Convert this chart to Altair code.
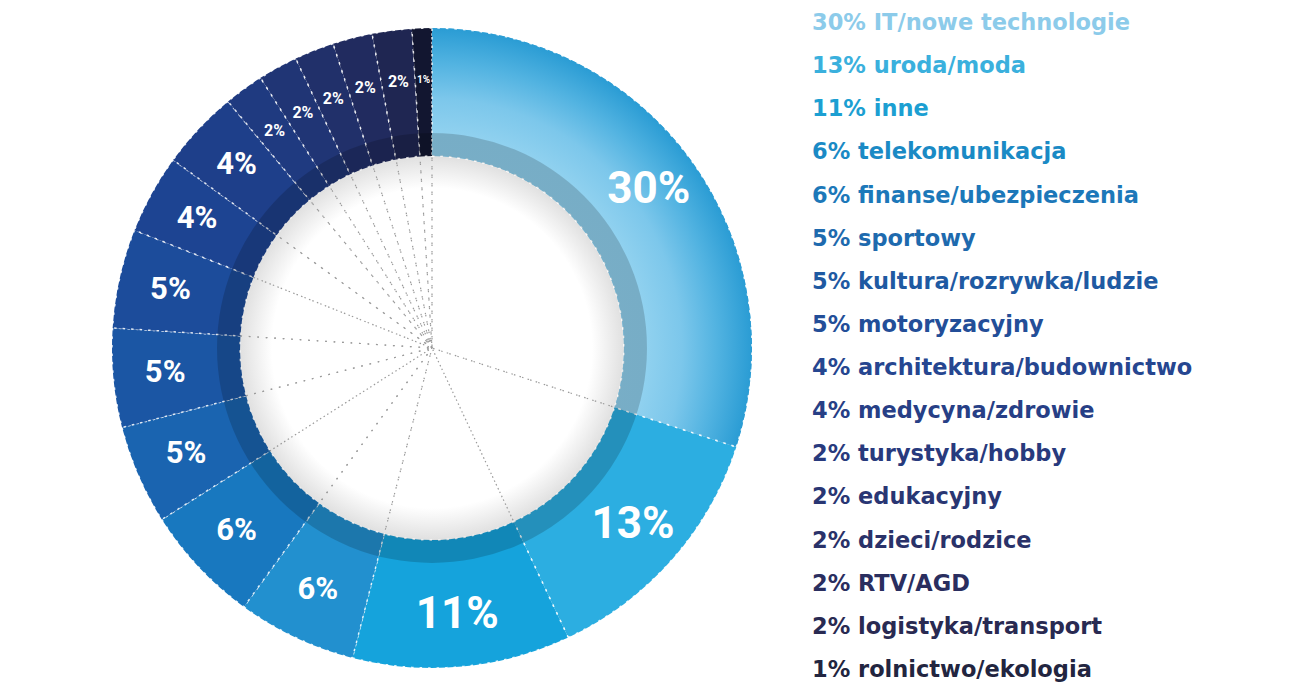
import math
import altair as alt
import pandas as pd

values = [30, 13, 11, 6, 6, 5, 5, 5, 4, 4, 2, 2, 2, 2, 2, 1]
names = [
    "IT/nowe technologie", "uroda/moda", "inne", "telekomunikacja",
    "finanse/ubezpieczenia", "sportowy", "kultura/rozrywka/ludzie",
    "motoryzacyjny", "architektura/budownictwo", "medycyna/zdrowie",
    "turystyka/hobby", "edukacyjny", "dzieci/rodzice", "RTV/AGD",
    "logistyka/transport", "rolnictwo/ekologia",
]

slice_colors = [
    "#6cc0e8", "#2caee1", "#15a3dc", "#2290cf", "#1878bf", "#1a64b0",
    "#1b56a4", "#1c4c9b", "#1d4492", "#1e3f8a", "#1f3a80", "#203575",
    "#21306a", "#212b5f", "#1f2652", "#121630",
]
legend_colors = [
    "#8ccbea", "#3ab0dd", "#1c9fd2", "#1a8ac5", "#1c78b9", "#1e6aae",
    "#1f5aa2", "#234e98", "#264690", "#273f86", "#283a7d", "#293673",
    "#2a3269", "#2a2e5f", "#292a52", "#222540",
]

df = pd.DataFrame({"idx": list(range(len(values))), "name": names, "value": values})
df["label"] = [f"{v}%" for v in values]
df["legend"] = [f"{v}% {n}" for v, n in zip(values, names)]
one = pd.DataFrame({"k": [1]})

CX, CY = 424, 340
R_IN, R_BAND, R_OUT = 192, 215, 320
TWO_PI = 2 * math.pi

theta = alt.Theta("value:Q", stack=True)
order = alt.Order("idx:Q", sort="ascending")
pos = dict(x=alt.value(CX), y=alt.value(CY))

disc = alt.Chart(one).mark_arc(
    innerRadius=0, outerRadius=200,
    fill=alt.Gradient(
        gradient="radial",
        stops=[
            alt.GradientStop(color="#ffffff", offset=0),
            alt.GradientStop(color="#ffffff", offset=0.8),
            alt.GradientStop(color="#e2e2e2", offset=0.95),
            alt.GradientStop(color="#d4d4d4", offset=1),
        ],
        x1=0.5, y1=0.5, r1=0, x2=0.5, y2=0.5, r2=0.5,
    ),
).encode(theta=alt.value(0), theta2=alt.value(TWO_PI), **pos)

spokes = alt.Chart(df).mark_arc(
    innerRadius=0, outerRadius=198, fillOpacity=0,
    stroke="#9a9a9a", strokeWidth=1.2, strokeDash=[1.5, 7],
).encode(theta=theta, order=order, **pos)

ring = alt.Chart(df).mark_arc(
    innerRadius=R_IN, outerRadius=R_OUT,
    stroke="white", strokeWidth=1.5, strokeDash=[2.5, 6], strokeOpacity=0.85,
).encode(
    theta=theta, order=order,
    color=alt.Color("name:N", scale=alt.Scale(domain=names, range=slice_colors), legend=None),
    **pos,
)

hl = alt.Chart(df).transform_filter("datum.idx == 0").mark_arc(
    innerRadius=R_IN, outerRadius=R_OUT,
    stroke="white", strokeWidth=1.5, strokeDash=[2.5, 6], strokeOpacity=0.85,
    fill=alt.Gradient(
        gradient="radial",
        stops=[
            alt.GradientStop(color="#9ad6f2", offset=0),
            alt.GradientStop(color="#90d1ef", offset=0.67),
            alt.GradientStop(color="#7cc7eb", offset=0.78),
            alt.GradientStop(color="#52b3e1", offset=0.89),
            alt.GradientStop(color="#2a9cd4", offset=1),
        ],
        x1=0.118, y1=0.764, r1=0, x2=0.118, y2=0.764, r2=0.764,
    ),
).encode(theta=theta, order=order, **pos)

band = alt.Chart(one).mark_arc(
    innerRadius=R_IN, outerRadius=R_BAND, fill="black", fillOpacity=0.17,
).encode(theta=alt.value(0), theta2=alt.value(TWO_PI), **pos)

labels = alt.Chart(df).mark_text(
    radius=268, font="Roboto", fontWeight="bold", color="white",
    align="center", baseline="middle",
).encode(
    theta=theta, order=order, text="label:N",
    size=alt.Size("value:Q", scale=alt.Scale(type="threshold", domain=[2, 4, 11],
                                             range=[10, 16, 31, 44]), legend=None),
    **pos,
)

legend = alt.Chart(df).mark_text(
    align="left", baseline="middle", font="DejaVu Sans", fontSize=22.5, fontWeight="bold",
).encode(
    x=alt.value(804),
    y=alt.Y("idx:O", axis=None, scale=alt.Scale(type="point", range=[15, 662], padding=0)),
    text="legend:N",
    color=alt.Color("name:N", scale=alt.Scale(domain=names, range=legend_colors), legend=None),
)

chart = alt.layer(disc, spokes, ring, hl, band, labels, legend).resolve_scale(
    color="independent"
).properties(
    width=1284, height=676, padding=0, autosize=alt.AutoSizeParams(type="none"),
    background="white",
).configure_view(strokeWidth=0)

chart.save("out.html", embed_options={"renderer": "svg", "actions": False})
